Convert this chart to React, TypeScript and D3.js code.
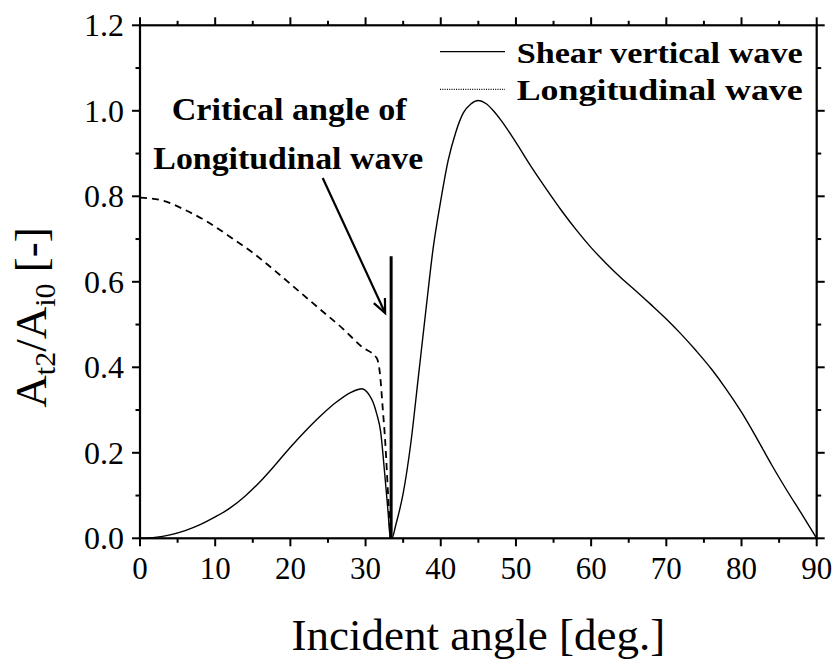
import React from "react";
import * as d3 from "d3";

// Shear vertical wave (solid)
const svAngle = [0, 2, 4, 6, 8, 10, 12, 14, 16, 18, 20, 22, 24, 26, 28, 29, 29.5, 30.5, 31, 31.5, 32, 32.5, 33, 33.3,
  33.5, 34, 35, 36, 37, 38, 39, 40, 41, 42, 43, 44, 45, 46, 47, 48, 49, 50, 52, 54, 56, 58, 60, 62, 64, 66, 68, 70, 72, 74, 76, 78, 80, 82, 84, 86, 88, 90];
const svValue = [0, 0.002, 0.008, 0.018, 0.032, 0.05, 0.071, 0.099, 0.133, 0.172, 0.213, 0.251, 0.286, 0.317, 0.341, 0.348, 0.35, 0.335, 0.318, 0.29, 0.25, 0.16, 0.06, 0.0,
  0.0, 0.03, 0.105, 0.22, 0.374, 0.53, 0.68, 0.79, 0.885, 0.95, 0.995, 1.016, 1.024, 1.017, 1.0, 0.978, 0.953, 0.926, 0.87, 0.818, 0.768, 0.722, 0.68, 0.643, 0.609, 0.578, 0.546, 0.513, 0.477, 0.438, 0.396, 0.348, 0.295, 0.235, 0.172, 0.113, 0.057, 0];

// Longitudinal wave (dashed)
const lAngle = [0, 3, 6, 9, 12, 15, 18, 21, 24, 27, 29.5, 31.5, 31.9, 32.3, 32.6, 33, 33.3];
const lValue = [0.797, 0.79, 0.768, 0.74, 0.705, 0.668, 0.625, 0.58, 0.535, 0.49, 0.448, 0.421, 0.387, 0.3, 0.23, 0.1, 0];

// Critical angle marker and arrow
const criticalAngle = 33.4;
const criticalTop = 0.66;
const arrowFrom = [24.3, 0.843];
const arrowTo = [32.6, 0.527];

const xTicks = [0, 10, 20, 30, 40, 50, 60, 70, 80, 90];
const xMinor = [5, 15, 25, 35, 45, 55, 65, 75, 85];
const yTicks = [0, 0.2, 0.4, 0.6, 0.8, 1.0, 1.2];
const yMinor = [0.1, 0.3, 0.5, 0.7, 0.9, 1.1];

const legendLabels = ["Shear vertical wave", "Longitudinal wave"];
const noteLines = ["Critical angle of", "Longitudinal wave"];

const W = 838, H = 662;
const L = 140, R = 816.7, T = 25.3, B = 538.3;
const FONT = "'Liberation Serif', 'Times New Roman', Times, serif";

export default function App() {
  const x = d3.scaleLinear().domain([0, 90]).range([L, R]);
  const y = d3.scaleLinear().domain([0, 1.2]).range([B, T]);
  const mk = (xs: number[], ys: number[]) =>
    d3.line<number>().x((_, i) => x(xs[i])).y((_, i) => y(ys[i])).curve(d3.curveMonotoneX)(xs) || "";
  const svPath = mk(svAngle, svValue);
  const lPath = mk(lAngle, lValue);

  const ax1 = x(arrowFrom[0]), ay1 = y(arrowFrom[1]);
  const ax2 = x(arrowTo[0]), ay2 = y(arrowTo[1]);
  const ang = Math.atan2(ay2 - ay1, ax2 - ax1);
  const hl = 15, ha = 0.42;
  const b1 = [ax2 - hl * Math.cos(ang - ha), ay2 - hl * Math.sin(ang - ha)];
  const b2 = [ax2 - hl * Math.cos(ang + ha), ay2 - hl * Math.sin(ang + ha)];
  const ts = { fontFamily: FONT };

  return (
    <svg width={W} height={H} style={{ position: "absolute", left: 0, top: 0, background: "#fff" }}>
      <rect x={0} y={0} width={W} height={H} fill="#fff" />
      {/* curves */}
      <path d={svPath} fill="none" stroke="#000" strokeWidth={1.4} />
      <path d={lPath} fill="none" stroke="#000" strokeWidth={1.8} strokeDasharray="7,5" />
      {/* critical angle line */}
      <line x1={x(criticalAngle)} x2={x(criticalAngle)} y1={y(0)} y2={y(criticalTop)} stroke="#000" strokeWidth={3} />
      {/* arrow */}
      <line x1={ax1} y1={ay1} x2={ax2} y2={ay2} stroke="#000" strokeWidth={2.2} />
      <path d={`M${b1[0]},${b1[1]}L${ax2},${ay2}L${b2[0]},${b2[1]}`} fill="none" stroke="#000" strokeWidth={2.2} />

      {/* frame */}
      <rect x={L} y={T} width={R - L} height={B - T} fill="none" stroke="#000" strokeWidth={2.2} />
      {xTicks.map(t => (
        <g key={"xt" + t}>
          <line x1={x(t)} x2={x(t)} y1={B} y2={B + 8} stroke="#000" strokeWidth={2} />
          <line x1={x(t)} x2={x(t)} y1={T} y2={T - 8} stroke="#000" strokeWidth={2} />
          <text x={x(t)} y={579} textAnchor="middle" fontSize={31} style={ts}>{t}</text>
        </g>
      ))}
      {xMinor.map(t => (
        <g key={"xm" + t}>
          <line x1={x(t)} x2={x(t)} y1={B} y2={B + 4.5} stroke="#000" strokeWidth={2} />
          <line x1={x(t)} x2={x(t)} y1={T} y2={T - 4.5} stroke="#000" strokeWidth={2} />
        </g>
      ))}
      {yTicks.map(t => (
        <g key={"yt" + t}>
          <line x1={L} x2={L - 8} y1={y(t)} y2={y(t)} stroke="#000" strokeWidth={2} />
          <line x1={R} x2={R + 8} y1={y(t)} y2={y(t)} stroke="#000" strokeWidth={2} />
          <text x={124} y={y(t) + 11} textAnchor="end" fontSize={32} style={ts}>{t.toFixed(1)}</text>
        </g>
      ))}
      {yMinor.map(t => (
        <g key={"ym" + t}>
          <line x1={L} x2={L - 4.5} y1={y(t)} y2={y(t)} stroke="#000" strokeWidth={2} />
          <line x1={R} x2={R + 4.5} y1={y(t)} y2={y(t)} stroke="#000" strokeWidth={2} />
        </g>
      ))}

      {/* axis titles */}
      <text x={(L + R) / 2} y={650} textAnchor="middle" fontSize={45} style={ts}>Incident angle [deg.]</text>
      <text transform={`translate(46,317.5) rotate(-90)`} textAnchor="middle" fontSize={45} style={ts}>
        A<tspan fontSize={30} dy={9}>t2</tspan><tspan dy={-9}>/A</tspan><tspan fontSize={30} dy={9}>i0</tspan><tspan dy={-9}> [-]</tspan>
      </text>

      {/* legend */}
      <line x1={440} x2={505} y1={51.7} y2={51.7} stroke="#000" strokeWidth={1.2} />
      <line x1={440} x2={505} y1={89.3} y2={89.3} stroke="#000" strokeWidth={1.2} strokeDasharray="1,1.3" />
      <text x={516.7} y={63.3} fontSize={30} fontWeight="bold" textLength={286} lengthAdjust="spacingAndGlyphs" style={ts}>{legendLabels[0]}</text>
      <text x={516.7} y={99.5} fontSize={30} fontWeight="bold" textLength={286} lengthAdjust="spacingAndGlyphs" style={ts}>{legendLabels[1]}</text>

      {/* annotation */}
      <text x={171.7} y={120} fontSize={31} fontWeight="bold" textLength={235} lengthAdjust="spacingAndGlyphs" style={ts}>{noteLines[0]}</text>
      <text x={153.3} y={168.5} fontSize={31} fontWeight="bold" textLength={270} lengthAdjust="spacingAndGlyphs" style={ts}>{noteLines[1]}</text>
    </svg>
  );
}
